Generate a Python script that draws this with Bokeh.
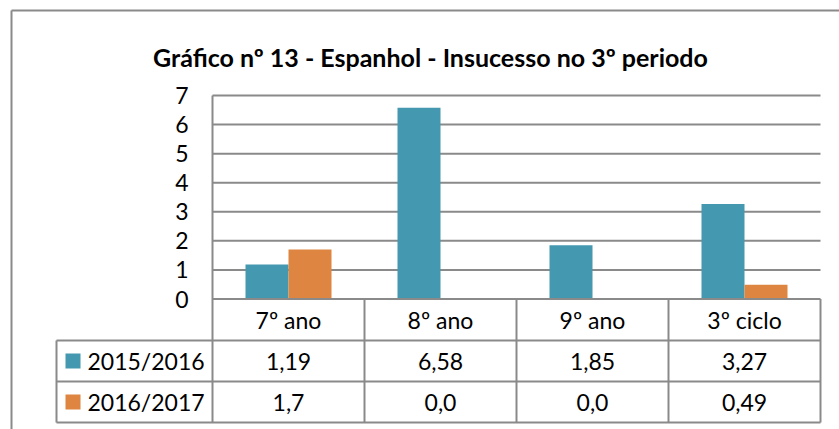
from bokeh.plotting import figure
from bokeh.models import Range1d, ColumnDataSource
from bokeh.core.properties import value
from bokeh.embed import file_html
from bokeh.resources import INLINE

# ---- data ----
categories = ["7º ano", "8º ano", "9º ano", "3º ciclo"]
series_names = ["2015/2016", "2016/2017"]
values_2015_2016 = [1.19, 6.58, 1.85, 3.27]
values_2016_2017 = [1.7, 0.0, 0.0, 0.49]
y_ticks = [0, 1, 2, 3, 4, 5, 6, 7]
title_text = "Gráfico nº 13 - Espanhol - Insucesso no 3º periodo"

# ---- styles ----
TEAL = "#4499B0"
ORANGE = "#DE8641"
GRID = "#8A8A8A"
FONT = "Lato"

W, H = 839, 429
X0_PX = 212.0      # canvas x of category 0 left edge
CAT_PX = 152.0     # pixels per category
Y0_PX = 298.5      # canvas y of value 0
UNIT_PX = 29.07    # pixels per value unit


def dx(px):
    return (px - X0_PX) / CAT_PX


def dy(py):
    return (Y0_PX - py) / UNIT_PX


p = figure(width=W, height=H, output_backend="svg", toolbar_location=None,
           x_range=Range1d(dx(0), dx(W)), y_range=Range1d(dy(H), dy(0)),
           min_border=0, min_border_left=0, min_border_right=0,
           min_border_top=0, min_border_bottom=0)
p.axis.visible = False
p.grid.visible = False
p.outline_line_color = None
p.background_fill_color = "white"
p.border_fill_color = "white"

n = len(categories)
centers = [i + 0.5 for i in range(n)]
bar_w = 43.0 / CAT_PX

# outer chart border (left and top)
p.line([dx(11), dx(11)], [dy(10), dy(H)], line_color=GRID, line_width=2)
p.line([dx(11), dx(W)], [dy(10), dy(10)], line_color=GRID, line_width=2)

# title
p.text(x=[dx(430)], y=[dy(56)], text=[title_text], text_font=value(FONT),
       text_font_style="bold", text_font_size="25px", text_align="center",
       text_baseline="alphabetic", text_color="black")

# gridlines
grid_vals = [t for t in y_ticks if t > 0]
p.segment(x0=[0] * len(grid_vals), x1=[n] * len(grid_vals), y0=grid_vals, y1=grid_vals,
          line_color=GRID, line_width=2)

# y tick labels
p.text(x=[dx(188)] * len(y_ticks), y=y_ticks, text=[str(t) for t in y_ticks],
       text_font=value(FONT), text_font_size="23px", text_align="right",
       text_baseline="middle", text_color="black")

# bars
src1 = ColumnDataSource(dict(x=[c - bar_w / 2 for c in centers], top=values_2015_2016))
src2 = ColumnDataSource(dict(x=[c + bar_w / 2 for c in centers], top=values_2016_2017))
p.vbar(x="x", top="top", bottom=0, width=bar_w, source=src1, fill_color=TEAL, line_color=None)
p.vbar(x="x", top="top", bottom=0, width=bar_w, source=src2, fill_color=ORANGE, line_color=None)

# data table
row_hdr_bottom = dy(340)
row1_bottom = dy(381)
row2_bottom = dy(422)
leg_left = dx(56)
hx0 = [0, leg_left, leg_left, leg_left]
hx1 = [n, n, n, n]
hy = [0, row_hdr_bottom, row1_bottom, row2_bottom]
p.segment(x0=hx0, x1=hx1, y0=hy, y1=hy, line_color=GRID, line_width=2)
vx = [0] + list(range(1, n + 1)) + [leg_left]
vtop = [7] + [0] * n + [row_hdr_bottom]
p.segment(x0=vx, x1=vx, y0=vtop, y1=[row2_bottom] * len(vx), line_color=GRID, line_width=2)

# header (categories)
p.text(x=centers, y=[(0 + row_hdr_bottom) / 2] * n, text=categories,
       text_font=value(FONT), text_font_size="23px", text_align="center",
       text_baseline="middle", text_color="black")

# value rows
r1y = (row_hdr_bottom + row1_bottom) / 2
r2y = (row1_bottom + row2_bottom) / 2
fmt = lambda v: str(v).replace(".", ",")
p.text(x=centers, y=[r1y] * n, text=[fmt(v) for v in values_2015_2016],
       text_font=value(FONT), text_font_size="23px", text_align="center",
       text_baseline="middle", text_color="black")
p.text(x=centers, y=[r2y] * n, text=[fmt(v) for v in values_2016_2017],
       text_font=value(FONT), text_font_size="23px", text_align="center",
       text_baseline="middle", text_color="black")

# legend keys in table
p.rect(x=[dx(72.5)] * 2, y=[r1y, r2y], width=15, height=15, width_units="screen",
       height_units="screen", fill_color=[TEAL, ORANGE], line_color=None)
p.text(x=[dx(87)] * 2, y=[r1y, r2y], text=series_names, text_font=value(FONT),
       text_font_size="23px", text_align="left", text_baseline="middle", text_color="black")

open("out.html", "w").write(file_html(p, INLINE))
